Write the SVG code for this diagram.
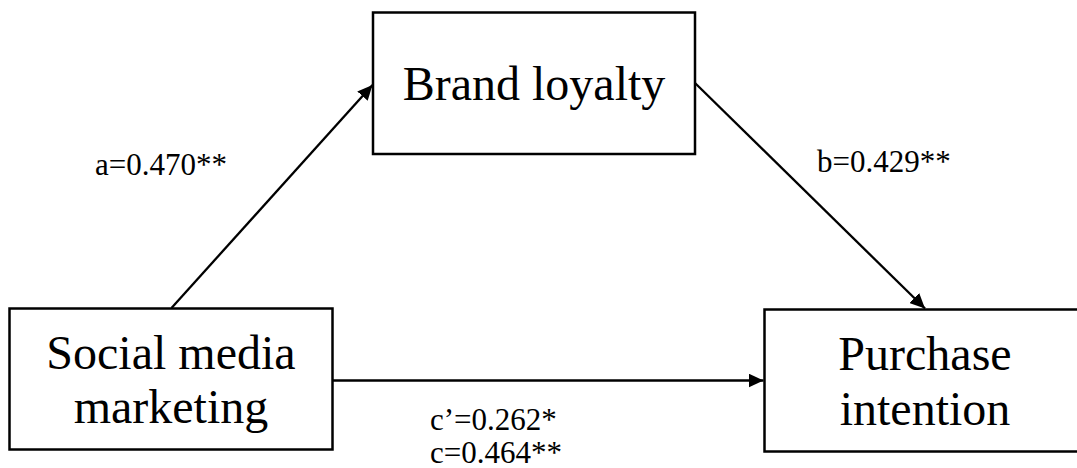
<svg xmlns="http://www.w3.org/2000/svg" width="1077" height="468" viewBox="0 0 1077 468">
  <style>
    .box { fill: #ffffff; stroke: #000000; stroke-width: 2.5; }
    .label { font-family: "Liberation Serif", "Times New Roman", serif; fill: #000000; }
    .node-text { font-size: 48px; text-anchor: middle; }
    .coef { font-size: 31px; }
    .edge { stroke: #000000; stroke-width: 2.3; fill: none; marker-end: url(#arrow); }
  </style>
  <defs>
    <marker id="arrow" viewBox="0 0 15 14" refX="15" refY="7" markerWidth="15" markerHeight="14" markerUnits="userSpaceOnUse" orient="auto">
      <path d="M0,0 L15,7 L0,14 Z" fill="#000000"/>
    </marker>
  </defs>
  <rect width="1077" height="468" fill="#ffffff"/>

  <!-- paths between the variables -->
  <g id="connectors">
    <line class="edge" x1="171.5" y1="308" x2="372.5" y2="85"/>
    <line class="edge" x1="695" y1="83" x2="925" y2="308.5"/>
    <line class="edge" x1="333" y1="380.5" x2="763.5" y2="380.5"/>
    <text class="label coef" x="95" y="175">a=0.470**</text>
    <text class="label coef" x="817" y="172">b=0.429**</text>
    <text class="label coef" x="430" y="430">c’=0.262*</text>
    <text class="label coef" x="430" y="463">c=0.464**</text>
  </g>

  <g id="brand-loyalty">
    <rect class="box" x="373" y="12.5" width="322" height="141.5"/>
    <text class="label node-text" x="534" y="100">Brand loyalty</text>
  </g>

  <g id="social-media-marketing">
    <rect class="box" x="9.5" y="308.5" width="323" height="141"/>
    <text class="label node-text" x="171" y="369">Social media</text>
    <text class="label node-text" x="171" y="423">marketing</text>
  </g>

  <g id="purchase-intention">
    <rect class="box" x="764.5" y="309.5" width="322" height="142"/>
    <text class="label node-text" x="925" y="370">Purchase</text>
    <text class="label node-text" x="925" y="425">intention</text>
  </g>
</svg>
